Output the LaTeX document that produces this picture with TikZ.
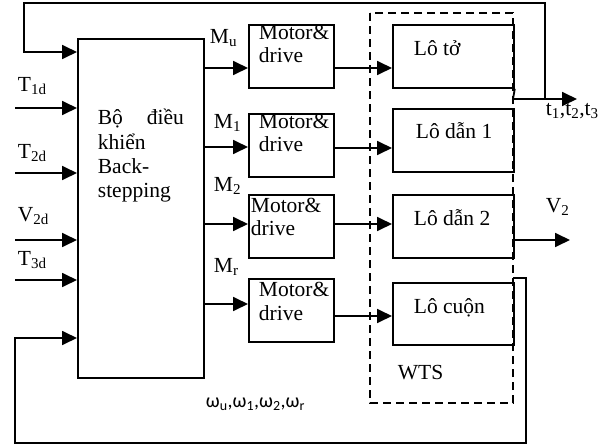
\documentclass[tikz,border=0pt]{standalone}
\usepackage{fontspec}
\setmainfont{Liberation Serif}
\newfontfamily\omegafont{Carlito}
\usetikzlibrary{arrows.meta}
\begin{document}
\begin{tikzpicture}[x=1pt,y=-1pt,
  line width=1.8pt,
  box/.style={draw,line width=1.8pt,inner sep=0pt,anchor=north west},
  txt/.style={inner sep=0pt,anchor=base west,font=\fontsize{21.5}{24}\selectfont},
  arr/.style={-{Triangle[length=15pt,width=14pt]}},
  wts/.style={draw,dash pattern=on 8pt off 5pt,line width=1.8pt}]
\useasboundingbox (0,0) rectangle (600,447);
% dashed WTS box
\draw[wts] (370,13) rectangle (513,403);
% controller
\node[box,minimum width=126pt,minimum height=339pt] (ctl) at (77,38) {};
\node[txt] (c1) at (97,124) {\hbox to 86pt{Bộ\hfill điều}};
\node[txt] (c2) at (97,149) {khiển};
\node[txt] (c3) at (97,173) {Back-};
\node[txt] (c4) at (97,197) {stepping};
% motor boxes
\node[box,minimum width=85pt,minimum height=63pt] (m1) at (248,24) {};
\node[box,minimum width=85pt,minimum height=63pt] (m2) at (248,113) {};
\node[box,minimum width=85pt,minimum height=63pt] (m3) at (248,194) {};
\node[box,minimum width=85pt,minimum height=63pt] (m4) at (248,278) {};
\node[txt] (m1a) at (258,39) {Motor\&};
\node[txt] (m1b) at (258,62) {drive};
\node[txt] (m2a) at (258,128) {Motor\&};
\node[txt] (m2b) at (258,151) {drive};
\node[txt] (m3a) at (250,212) {Motor\&};
\node[txt] (m3b) at (250,235) {drive};
\node[txt] (m4a) at (258,296) {Motor\&};
\node[txt] (m4b) at (258,320) {drive};
% roller boxes
\node[box,minimum width=121pt,minimum height=63pt] (l1) at (392,24) {};
\node[box,minimum width=121pt,minimum height=63pt] (l2) at (392,108) {};
\node[box,minimum width=121pt,minimum height=63pt] (l3) at (392,194) {};
\node[box,minimum width=121pt,minimum height=62pt] (l4) at (392,282) {};
\node[txt] (l1t) at (413,55) {Lô tở};
\node[txt] (l2t) at (415,138) {Lô dẫn 1};
\node[txt] (l3t) at (413,225) {Lô dẫn 2};
\node[txt] (l4t) at (413,313) {Lô cuộn};
\node[txt] (wtst) at (397,379) {WTS};
% input labels
\node[txt] (t1d) at (17,91) {T\textsubscript{1d}};
\node[txt] (t2d) at (17,158) {T\textsubscript{2d}};
\node[txt] (v2d) at (17,221) {V\textsubscript{2d}};
\node[txt] (t3d) at (17,265) {T\textsubscript{3d}};
% output labels
\node[txt] (mu) at (209,43) {M\textsubscript{u}};
\node[txt] (m1l) at (213,128) {M\textsubscript{1}};
\node[txt] (m2l) at (213,191) {M\textsubscript{2}};
\node[txt] (mrl) at (213,272) {M\textsubscript{r}};
\node[txt] (v2) at (545,212) {V\textsubscript{2}};
\node[txt] (tl) at (545,115) {t\textsubscript{1},t\textsubscript{2},t\textsubscript{3}};
\node[inner sep=0pt,anchor=base west,font=\omegafont\fontsize{20}{24}\selectfont] (om) at (205,407) {ω\textsubscript{u},ω\textsubscript{1},ω\textsubscript{2},ω\textsubscript{r}};
% coordinates
\coordinate (i1) at (15,108);
\coordinate (i2) at (15,173);
\coordinate (i3) at (15,240);
\coordinate (i4) at (15,280);
\coordinate (tj) at (513,99);
\coordinate (tend) at (577,99);
\coordinate (fb1) at (545,99);
\coordinate (fbtop) at (24,3);
\coordinate (v2s) at (513,240);
\coordinate (v2e) at (570,240);
\coordinate (bf1) at (513,278);
\coordinate (bf2) at (526,443);
\coordinate (bf3) at (15,338);
% inputs
\draw[arr] (i1) -- (ctl.west |- i1);
\draw[arr] (i2) -- (ctl.west |- i2);
\draw[arr] (i3) -- (ctl.west |- i3);
\draw[arr] (i4) -- (ctl.west |- i4);
% controller -> motors
\draw[arr] (ctl.east |- 0,68) -- (m1.west |- 0,68);
\draw[arr] (ctl.east |- 0,147) -- (m2.west |- 0,147);
\draw[arr] (ctl.east |- 0,224) -- (m3.west |- 0,224);
\draw[arr] (ctl.east |- 0,304) -- (m4.west |- 0,304);
% motors -> rollers
\draw[arr] (m1.east |- 0,68) -- (l1.west |- 0,68);
\draw[arr] (m2.east |- 0,148) -- (l2.west |- 0,148);
\draw[arr] (m3.east |- 0,224) -- (l3.west |- 0,224);
\draw[arr] (m4.east |- 0,316) -- (l4.west |- 0,316);
% tension output and top feedback
\draw[arr] (l1.south east) -- (tj) -- (tend);
\draw[arr] (fb1) |- (fbtop) |- (ctl.west |- 0,52);
% V2 output
\draw[arr] (v2s) -- (v2e);
% bottom feedback
\draw[arr] (bf1) -| (bf2) -| (bf3) -- (ctl.west |- bf3);
\end{tikzpicture}
\end{document}
